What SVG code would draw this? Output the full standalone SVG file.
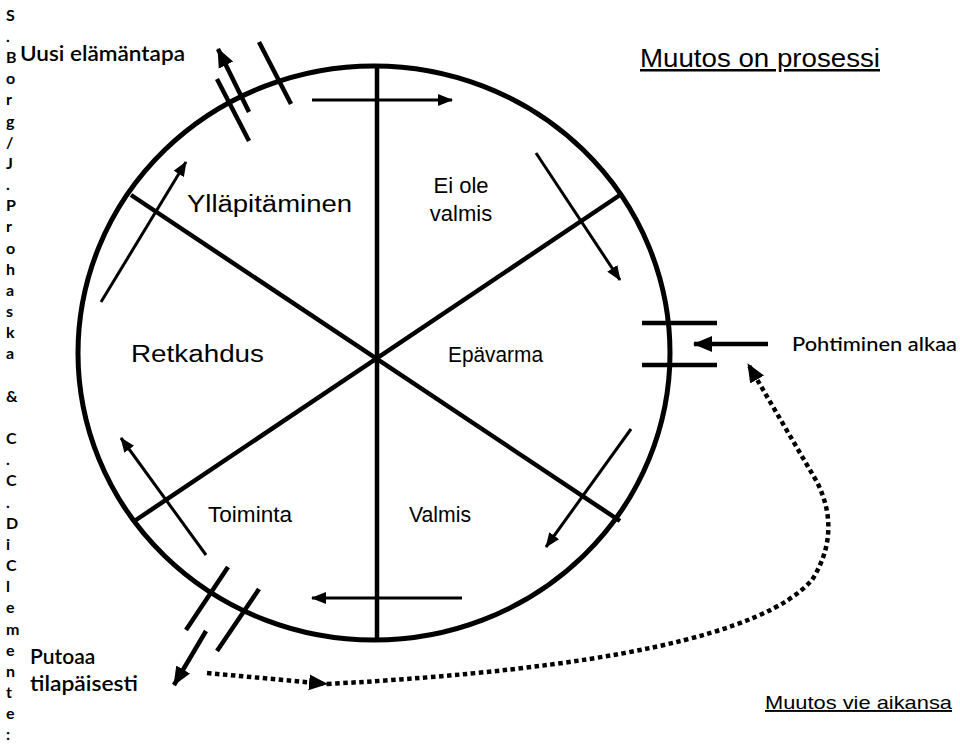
<svg xmlns="http://www.w3.org/2000/svg" width="960" height="745" viewBox="0 0 960 745">
<style>
.ring{fill:none;stroke:#000;stroke-width:5}
.spoke{stroke:#000;stroke-width:4.5;fill:none}
.arr{stroke:#000;stroke-width:3;fill:none}
.thick{stroke:#000;stroke-width:4.5;fill:none}
.dot{stroke:#000;stroke-width:4.5;fill:none;stroke-dasharray:4.5 3.5}
.a{font-family:"Liberation Sans",Arial,sans-serif;fill:#000}
.c{font-family:Lato,"Open Sans",sans-serif;fill:#000}
.side{font-family:Lato,"Open Sans",sans-serif;font-weight:bold;font-size:16px;fill:#000}
</style>
<defs>
<marker id="ah" markerUnits="userSpaceOnUse" markerWidth="16" markerHeight="14" viewBox="0 0 16 14" refX="14" refY="7" orient="auto"><path d="M0,1 L15,7 L0,13 Z" fill="#000"/></marker>
<marker id="ahb" markerUnits="userSpaceOnUse" markerWidth="20" markerHeight="18" viewBox="0 0 20 18" refX="18" refY="9" orient="auto"><path d="M0,1 L19,9 L0,17 Z" fill="#000"/></marker>
</defs>

<g id="authors">
<text class="side" x="6" y="21">S</text>
<text class="side" x="6" y="42">.</text>
<text class="side" x="6" y="63">B</text>
<text class="side" x="6" y="84">o</text>
<text class="side" x="6" y="105">r</text>
<text class="side" x="6" y="127">g</text>
<text class="side" x="6" y="148">/</text>
<text class="side" x="6" y="169">J</text>
<text class="side" x="6" y="190">.</text>
<text class="side" x="6" y="211">P</text>
<text class="side" x="6" y="232">r</text>
<text class="side" x="6" y="254">o</text>
<text class="side" x="6" y="275">h</text>
<text class="side" x="6" y="296">a</text>
<text class="side" x="6" y="317">s</text>
<text class="side" x="6" y="338">k</text>
<text class="side" x="6" y="359">a</text>
<text class="side" x="6" y="402">&amp;</text>
<text class="side" x="6" y="444">C</text>
<text class="side" x="6" y="465">.</text>
<text class="side" x="6" y="486">C</text>
<text class="side" x="6" y="508">.</text>
<text class="side" x="6" y="529">D</text>
<text class="side" x="6" y="550">i</text>
<text class="side" x="6" y="571">C</text>
<text class="side" x="6" y="592">l</text>
<text class="side" x="6" y="613">e</text>
<text class="side" x="6" y="635">m</text>
<text class="side" x="6" y="656">e</text>
<text class="side" x="6" y="677">n</text>
<text class="side" x="6" y="698">t</text>
<text class="side" x="6" y="719">e</text>
<text class="side" x="6" y="740">:</text>
</g>

<g id="cycle">
<ellipse class="ring" cx="374" cy="353" rx="296" ry="287"/>
<line class="spoke" x1="377" y1="66" x2="377" y2="640"/>
<line class="spoke" x1="131" y1="195" x2="620" y2="521"/>
<line class="spoke" x1="620" y1="195" x2="133" y2="522"/>
</g>

<g id="title"><text class="a" x="640" y="67" font-size="25" text-decoration="underline" textLength="240" lengthAdjust="spacingAndGlyphs">Muutos on prosessi</text></g>
<g id="uusi"><text class="c" x="20" y="61" font-size="21" font-weight="600" textLength="165" lengthAdjust="spacingAndGlyphs">Uusi elämäntapa</text></g>
<g id="yllapitaminen"><text class="a" x="187" y="212" font-size="23" textLength="165" lengthAdjust="spacingAndGlyphs">Ylläpitäminen</text></g>
<g id="eiole"><text class="a" x="461" y="193" font-size="22" text-anchor="middle">Ei ole</text><text class="a" x="461" y="221" font-size="22" text-anchor="middle">valmis</text></g>
<g id="retkahdus"><text class="a" x="131" y="362" font-size="23" textLength="133" lengthAdjust="spacingAndGlyphs">Retkahdus</text></g>
<g id="epavarma"><text class="a" x="448" y="362" font-size="22" textLength="95" lengthAdjust="spacingAndGlyphs">Epävarma</text></g>
<g id="toiminta"><text class="a" x="208" y="522" font-size="22" textLength="84" lengthAdjust="spacingAndGlyphs">Toiminta</text></g>
<g id="valmis"><text class="a" x="409" y="522" font-size="22" textLength="62" lengthAdjust="spacingAndGlyphs">Valmis</text></g>
<g id="pohtiminen"><text class="c" x="792" y="351" font-size="20" font-weight="500" textLength="165" lengthAdjust="spacingAndGlyphs">Pohtiminen alkaa</text></g>
<g id="putoaa"><text class="c" x="30" y="664" font-size="21" font-weight="600">Putoaa</text><text class="c" x="30" y="691" font-size="21" font-weight="600" textLength="108" lengthAdjust="spacingAndGlyphs">tilapäisesti</text></g>
<g id="aikansa"><text class="a" x="765" y="709" font-size="19" text-decoration="underline" textLength="187" lengthAdjust="spacingAndGlyphs">Muutos vie aikansa</text></g>

<g id="connectors">
<line class="arr" x1="312" y1="100" x2="452" y2="100" marker-end="url(#ah)"/>
<line class="arr" x1="536" y1="153" x2="620" y2="280" marker-end="url(#ah)"/>
<line class="arr" x1="631" y1="429" x2="546" y2="547" marker-end="url(#ah)"/>
<line class="arr" x1="462" y1="598" x2="312" y2="598" marker-end="url(#ah)"/>
<line class="arr" x1="206" y1="555" x2="121" y2="438" marker-end="url(#ah)"/>
<line class="arr" x1="101" y1="302" x2="186" y2="162" marker-end="url(#ah)"/>
<line class="thick" x1="249" y1="112" x2="218" y2="49" marker-end="url(#ahb)"/>
<line class="thick" x1="217" y1="79" x2="249" y2="141"/>
<line class="thick" x1="259" y1="42" x2="291" y2="104"/>
<line class="thick" x1="228" y1="567" x2="186" y2="630"/>
<line class="thick" x1="259" y1="589" x2="217" y2="651"/>
<line class="thick" x1="206" y1="631" x2="174" y2="685" marker-end="url(#ahb)"/>
<line class="thick" x1="642" y1="323" x2="717" y2="323"/>
<line class="thick" x1="642" y1="365" x2="717" y2="365"/>
<line class="thick" x1="768" y1="344" x2="694" y2="344" marker-end="url(#ahb)"/>
<line class="dot" x1="207" y1="673" x2="327" y2="684" marker-end="url(#ahb)"/>
<path class="dot" d="M327,684 Q740,662 812,580 Q842,532 817,482 L748,364" marker-end="url(#ahb)"/>
</g>
</svg>
